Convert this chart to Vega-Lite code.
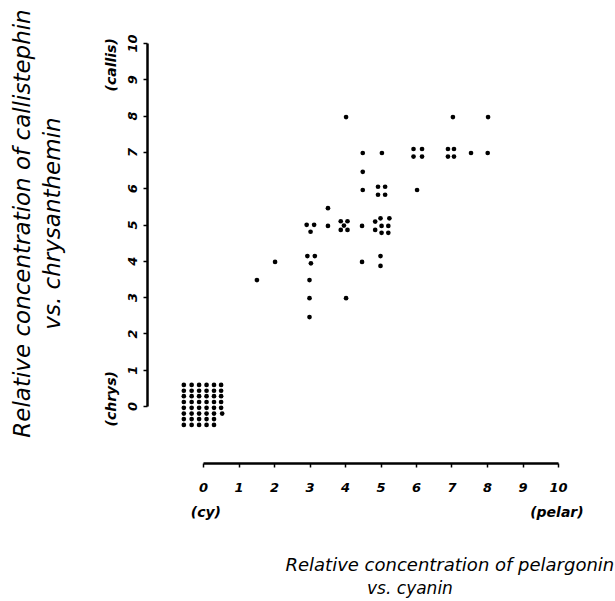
{
  "$schema": "https://vega.github.io/schema/vega-lite/v6.json",
  "width": 355,
  "height": 363,
  "autosize": {"type": "none"},
  "padding": {"left": 203, "top": 43, "right": 57, "bottom": 195},
  "background": "white",
  "config": {"view": {"stroke": null}, "font": "DejaVu Sans"},
  "datasets": {
    "pts": [
      {"x": -0.54, "y": 0.58}, {"x": -0.32, "y": 0.58}, {"x": -0.11, "y": 0.58}, {"x": 0.1, "y": 0.58}, {"x": 0.31, "y": 0.58}, {"x": 0.51, "y": 0.58},
      {"x": -0.54, "y": 0.42}, {"x": -0.32, "y": 0.42}, {"x": -0.11, "y": 0.42}, {"x": 0.1, "y": 0.42}, {"x": 0.31, "y": 0.42}, {"x": 0.51, "y": 0.42},
      {"x": -0.54, "y": 0.27}, {"x": -0.32, "y": 0.27}, {"x": -0.11, "y": 0.27}, {"x": 0.1, "y": 0.27}, {"x": 0.31, "y": 0.27}, {"x": 0.51, "y": 0.27},
      {"x": -0.54, "y": 0.11}, {"x": -0.32, "y": 0.11}, {"x": -0.11, "y": 0.11}, {"x": 0.1, "y": 0.11}, {"x": 0.31, "y": 0.11}, {"x": 0.51, "y": 0.11},
      {"x": -0.54, "y": -0.05}, {"x": -0.32, "y": -0.05}, {"x": -0.11, "y": -0.05}, {"x": 0.1, "y": -0.05}, {"x": 0.31, "y": -0.05}, {"x": 0.51, "y": -0.05},
      {"x": -0.54, "y": -0.21}, {"x": -0.32, "y": -0.21}, {"x": -0.11, "y": -0.21}, {"x": 0.1, "y": -0.21}, {"x": 0.31, "y": -0.21}, {"x": 0.54, "y": -0.21},
      {"x": -0.54, "y": -0.36}, {"x": -0.32, "y": -0.36}, {"x": -0.11, "y": -0.36}, {"x": 0.1, "y": -0.36}, {"x": 0.31, "y": -0.36},
      {"x": -0.54, "y": -0.52}, {"x": -0.32, "y": -0.52}, {"x": -0.11, "y": -0.52}, {"x": 0.1, "y": -0.52}, {"x": 0.31, "y": -0.52},
      {"x": 4.03, "y": 7.96}, {"x": 7.04, "y": 7.96}, {"x": 8.03, "y": 7.96},
      {"x": 4.5, "y": 6.97}, {"x": 5.04, "y": 6.97},
      {"x": 5.93, "y": 7.08}, {"x": 6.17, "y": 7.08}, {"x": 5.93, "y": 6.87}, {"x": 6.17, "y": 6.87},
      {"x": 6.9, "y": 7.08}, {"x": 7.07, "y": 7.08}, {"x": 6.9, "y": 6.87}, {"x": 7.07, "y": 6.87},
      {"x": 7.55, "y": 6.97}, {"x": 8.02, "y": 6.97},
      {"x": 4.5, "y": 6.45},
      {"x": 4.5, "y": 5.95},
      {"x": 4.93, "y": 6.04}, {"x": 5.13, "y": 6.04}, {"x": 4.93, "y": 5.82}, {"x": 5.13, "y": 5.82},
      {"x": 6.03, "y": 5.95},
      {"x": 3.52, "y": 5.45},
      {"x": 2.92, "y": 4.99}, {"x": 3.13, "y": 4.99}, {"x": 3.03, "y": 4.8},
      {"x": 3.52, "y": 4.96},
      {"x": 3.88, "y": 5.09}, {"x": 4.07, "y": 5.09}, {"x": 3.97, "y": 4.97}, {"x": 3.88, "y": 4.85}, {"x": 4.07, "y": 4.85},
      {"x": 4.48, "y": 4.96},
      {"x": 5.0, "y": 5.17}, {"x": 5.25, "y": 5.17}, {"x": 4.85, "y": 5.08}, {"x": 5.03, "y": 4.96}, {"x": 5.22, "y": 4.96}, {"x": 4.85, "y": 4.85}, {"x": 5.03, "y": 4.77}, {"x": 5.22, "y": 4.77},
      {"x": 2.03, "y": 3.97},
      {"x": 2.94, "y": 4.13}, {"x": 3.15, "y": 4.13}, {"x": 3.04, "y": 3.93},
      {"x": 4.48, "y": 3.97},
      {"x": 5.0, "y": 4.13}, {"x": 5.0, "y": 3.86},
      {"x": 1.52, "y": 3.47},
      {"x": 3.0, "y": 3.47},
      {"x": 3.0, "y": 2.97},
      {"x": 4.03, "y": 2.97},
      {"x": 3.0, "y": 2.45}
    ],
    "hnotes": [
      {"x": 0.08, "y": -2.95, "t": "(cy)"},
      {"x": 9.97, "y": -2.95, "t": "(pelar)"}
    ],
    "subtitle": [
      {"x": 5.83, "y": -5.04, "t": "vs. cyanin"}
    ],
    "vnotes": [
      {"x": -2.56, "y": 0.2, "t": "(chrys)"},
      {"x": -2.56, "y": 9.4, "t": "(callis)"}
    ]
  },
  "encoding": {
    "x": {
      "field": "x", "type": "quantitative",
      "scale": {"domain": [0, 10], "nice": false, "zero": false},
      "axis": {
        "values": [0, 1, 2, 3, 4, 5, 6, 7, 8, 9, 10],
        "offset": 57, "grid": false,
        "domainColor": "black", "domainWidth": 2.5,
        "tickColor": "black", "tickWidth": 1.5, "tickSize": 4,
        "labelFont": "DejaVu Sans", "labelFontStyle": "italic", "labelFontWeight": "bold",
        "labelFontSize": 13, "labelColor": "black", "labelBaseline": "middle", "labelPadding": 20,
        "labelFlush": false, "labelOverlap": false,
        "title": "Relative  concentration  of pelargonin",
        "titleFont": "DejaVu Sans", "titleFontStyle": "italic", "titleFontWeight": "normal",
        "titleFontSize": 18, "titleColor": "black",
        "titleX": 82, "titleY": 102, "titleAlign": "left", "titleBaseline": "middle"
      }
    },
    "y": {
      "field": "y", "type": "quantitative",
      "scale": {"domain": [0, 10], "nice": false, "zero": false},
      "axis": {
        "values": [0, 1, 2, 3, 4, 5, 6, 7, 8, 9, 10],
        "offset": 56, "grid": false,
        "domainColor": "black", "domainWidth": 2.5,
        "tickColor": "black", "tickWidth": 1.5, "tickSize": 4,
        "labelFont": "DejaVu Sans", "labelFontStyle": "italic", "labelFontWeight": "bold",
        "labelFontSize": 13, "labelColor": "black", "labelAngle": 270,
        "labelAlign": "center", "labelBaseline": "middle", "labelPadding": 11,
        "labelFlush": false, "labelOverlap": false,
        "title": ["Relative  concentration  of callistephin", "vs. chrysanthemin"],
        "titleFont": "DejaVu Sans", "titleFontStyle": "italic", "titleFontWeight": "normal",
        "titleFontSize": 23, "titleColor": "black", "titleLineHeight": 30,
        "titleAngle": 270, "titleX": -125, "titleY": 180,
        "titleAlign": "center", "titleBaseline": "middle"
      }
    }
  },
  "layer": [
    {
      "data": {"name": "pts"},
      "mark": {"type": "point", "filled": true, "color": "black", "size": 22, "opacity": 1}
    },
    {
      "data": {"name": "hnotes"},
      "mark": {"type": "text", "font": "DejaVu Sans", "fontStyle": "italic", "fontWeight": "bold", "fontSize": 14, "color": "black", "align": "center", "baseline": "middle"},
      "encoding": {"text": {"field": "t"}}
    },
    {
      "data": {"name": "subtitle"},
      "mark": {"type": "text", "font": "DejaVu Sans", "fontStyle": "italic", "fontWeight": "normal", "fontSize": 17, "color": "black", "align": "center", "baseline": "middle"},
      "encoding": {"text": {"field": "t"}}
    },
    {
      "data": {"name": "vnotes"},
      "mark": {"type": "text", "font": "DejaVu Sans", "fontStyle": "italic", "fontWeight": "bold", "fontSize": 14, "color": "black", "align": "center", "baseline": "middle", "angle": 270},
      "encoding": {"text": {"field": "t"}}
    }
  ]
}
